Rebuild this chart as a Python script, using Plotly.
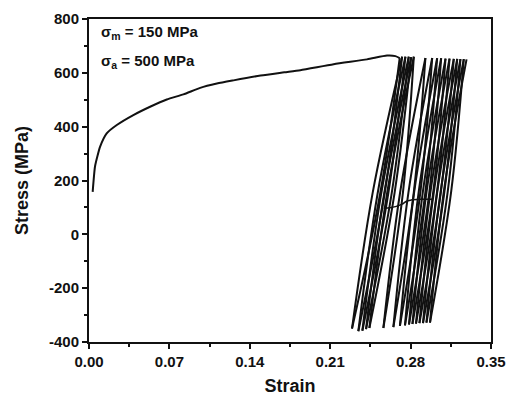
import plotly.graph_objects as go

# Monotonic (first loading) curve
mono_strain = [0.0032, 0.0052, 0.0072, 0.0096, 0.0154, 0.0242, 0.0386, 0.0532, 0.0677, 0.0822,
               0.0968, 0.1113, 0.1258, 0.1494, 0.1700, 0.1840, 0.2130, 0.2421, 0.2595, 0.2668, 0.2705]
mono_stress = [158, 251, 288, 325, 375, 406, 443, 474, 501, 520,
               544, 560, 572, 590, 602, 610, 632, 650, 664, 662, 655]

# Turning points of the cyclic part (peak/valley strains and stresses)
peak_strain = [0.2705, 0.2726, 0.2755, 0.2784, 0.2805, 0.2828,
               0.2929, 0.2988, 0.3031, 0.3066, 0.3104, 0.3139, 0.3176, 0.3206, 0.3234, 0.3263, 0.3287]
peak_stress = [655, 660, 660, 660, 658, 660,
               655, 655, 654, 654, 653, 653, 652, 652, 651, 651, 650]
valley_strain = [0.2290, 0.2345, 0.2380, 0.2412, 0.2441,
                 0.2563, 0.2650, 0.2707, 0.2751, 0.2786, 0.2816, 0.2847, 0.2877, 0.2908, 0.2938, 0.2969]
valley_stress = [-350, -360, -358, -352, -348,
                 -348, -345, -340, -338, -335, -333, -332, -330, -330, -328, -328]

# Branch bulge (strain offset of branch mid-point from its chord), read from the loops
loop_bulge = 0.0038

# Small step segment visible near 100 MPa
step_strain = [0.2566, 0.2620, 0.2668, 0.2726, 0.2760, 0.2799, 0.2886, 0.2988]
step_stress = [97, 99, 103, 112, 122, 127, 130, 130]

x_ticks = [0.00, 0.07, 0.14, 0.21, 0.28, 0.35]
x_tick_text = ["0.00", "0.07", "0.14", "0.21", "0.28", "0.35"]
y_ticks = [-400, -200, 0, 200, 400, 600, 800]
y_tick_text = ["-400", "-200", "0", "200", "400", "600", "800"]

LINE = dict(color="#111111", width=2)

fig = go.Figure()
fig.add_trace(go.Scatter(x=mono_strain, y=mono_stress, mode="lines",
                         line=dict(**LINE, shape="spline", smoothing=0.6), showlegend=False))

# build ordered turning point sequence: P0, V1, P1, V2, P2, ...
turns = [(peak_strain[0], peak_stress[0])]
for i in range(len(valley_strain)):
    turns.append((valley_strain[i], valley_stress[i]))
    turns.append((peak_strain[i + 1], peak_stress[i + 1]))

for (xa, ya), (xb, yb) in zip(turns[:-1], turns[1:]):
    sign = 1 if yb < ya else -1  # unloading bulges right, loading bulges left
    xm = (xa + xb) / 2 + sign * loop_bulge
    ym = (ya + yb) / 2
    fig.add_trace(go.Scatter(x=[xa, xm, xb], y=[ya, ym, yb], mode="lines",
                             line=dict(**LINE, shape="spline", smoothing=1.0),
                             showlegend=False))

fig.add_trace(go.Scatter(x=step_strain, y=step_stress, mode="lines",
                         line=dict(color="#111111", width=1.5, shape="spline", smoothing=0.8),
                         showlegend=False))

FONT = "Arial, Liberation Sans, sans-serif"

fig.update_layout(
    width=515, height=402,
    margin=dict(l=89, r=24, t=19, b=60),
    paper_bgcolor="white", plot_bgcolor="white",
    font=dict(family=FONT, color="#111111"),
    xaxis=dict(range=[0, 0.35], tickvals=x_ticks, ticktext=x_tick_text,
               automargin=False,
               showgrid=False, zeroline=False,
               showline=True, linecolor="#111111", linewidth=2, mirror=True,
               ticks="outside", ticklen=5, tickwidth=2, tickcolor="#111111",
               minor=dict(dtick=0.035, ticks="outside", ticklen=3, tickwidth=1.5, tickcolor="#111111"),
               tickfont=dict(size=15, weight="bold"),
               title=dict(text="Strain", font=dict(size=18, weight="bold"), standoff=10)),
    yaxis=dict(range=[-400, 800], tickvals=y_ticks, ticktext=y_tick_text,
               automargin=False,
               showgrid=False, zeroline=False,
               showline=True, linecolor="#111111", linewidth=2, mirror=True,
               ticks="outside", ticklen=5, tickwidth=2, tickcolor="#111111",
               minor=dict(dtick=100, ticks="outside", ticklen=3, tickwidth=1.5, tickcolor="#111111"),
               tickfont=dict(size=15, weight="bold"),
               title=dict(text="Stress (MPa)", font=dict(size=18, weight="bold"), standoff=16)),
)

fig.add_annotation(xref="paper", yref="paper", x=0.025, y=0.957, xanchor="left", yanchor="middle",
                   text="<b>σ<sub>m</sub> = 150 MPa</b>", showarrow=False,
                   font=dict(size=15, family=FONT, color="#111111"))
fig.add_annotation(xref="paper", yref="paper", x=0.025, y=0.867, xanchor="left", yanchor="middle",
                   text="<b>σ<sub>a</sub> = 500 MPa</b>", showarrow=False,
                   font=dict(size=15, family=FONT, color="#111111"))

fig.write_html("out.html", config={"displayModeBar": False},
               post_script="document.body.style.margin='0';document.body.style.padding='0';")
